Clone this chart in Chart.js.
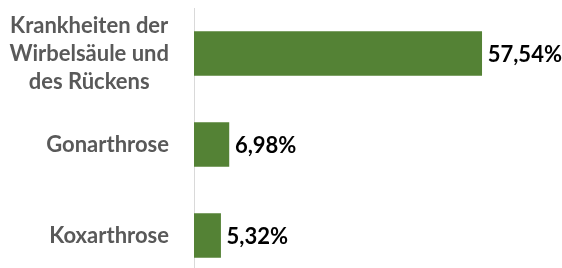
<!DOCTYPE html>
<html>
<head>
<meta charset="utf-8">
<script src="https://cdn.jsdelivr.net/npm/chart.js@4"></script>
<style>
html,body{margin:0;padding:0;background:#fff;overflow:hidden;}
#wrap{width:562px;height:281px;}
</style>
</head>
<body>
<div id="wrap"><canvas id="c" width="562" height="281"></canvas></div>
<script>
const categories = [["Krankheiten der","Wirbelsäule und","des Rückens"], "Gonarthrose", "Koxarthrose"];
const values = [57.54, 6.98, 5.32];
const valueLabels = ["57,54%", "6,98%", "5,32%"];

const FONT = "Lato";

const valueLabelPlugin = {
  id: 'valueLabels',
  afterDatasetsDraw(chart) {
    const ctx = chart.ctx;
    const meta = chart.getDatasetMeta(0);
    ctx.save();
    ctx.font = "bold 22px " + FONT;
    ctx.fillStyle = "#000000";
    ctx.textAlign = "left";
    ctx.textBaseline = "middle";
    meta.data.forEach((bar, i) => {
      ctx.fillText(valueLabels[i], bar.x + 6, bar.y + 1);
    });
    ctx.restore();
  }
};

// centre the lines of multi-line category labels within their own block (block stays right-aligned)
const centerMultilinePlugin = {
  id: 'centerMultiline',
  beforeDraw(chart) {
    const scale = chart.scales.y;
    const items = scale.getLabelItems();
    const ctx = chart.ctx;
    items.forEach(it => {
      if (Array.isArray(it.label) && !it._centered) {
        ctx.save();
        ctx.font = it.font.string;
        const w = Math.max(...it.label.map(l => ctx.measureText(l).width));
        ctx.restore();
        it.options.textAlign = 'center';
        it.options.translation = [it.options.translation[0] - w / 2, it.options.translation[1]];
        it._centered = true;
      }
    });
  }
};

new Chart(document.getElementById('c'), {
  type: 'bar',
  data: {
    labels: categories,
    datasets: [{
      data: values,
      backgroundColor: '#548235',
      borderWidth: 0,
      barThickness: 44
    }]
  },
  options: {
    indexAxis: 'y',
    responsive: false,
    animation: false,
    devicePixelRatio: 1,
    layout: { padding: { top: 8, right: 18, bottom: 0, left: 0 } },
    plugins: { legend: { display: false }, tooltip: { enabled: false } },
    scales: {
      x: { display: false, min: 0, max: 70 },
      y: {
        afterFit(scale) { scale.width = 194; scale.paddingTop = 0; scale.paddingBottom = 0; },
        grid: { display: false, drawTicks: false },
        border: { display: true, color: '#d9d9d9', width: 1 },
        ticks: {
          padding: 25,
          color: '#595959',
          font: { family: FONT, weight: 'bold', size: 22, lineHeight: 1.27 }
        }
      }
    }
  },
  plugins: [valueLabelPlugin, centerMultilinePlugin]
});
</script>
</body>
</html>
